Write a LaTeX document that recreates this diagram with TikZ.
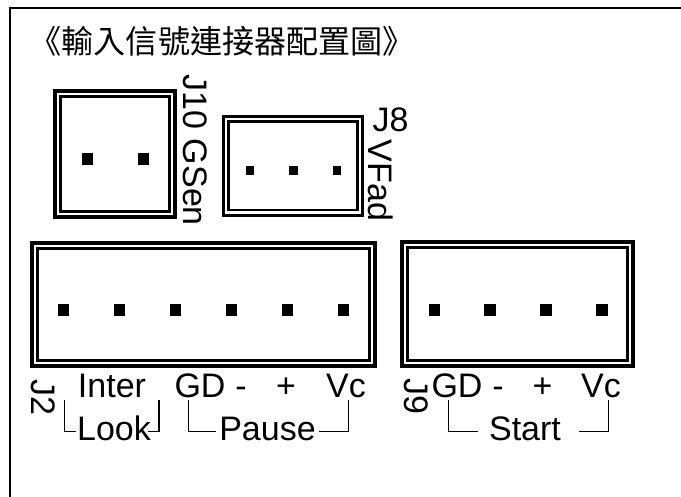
\documentclass[tikz,border=0pt]{standalone}
\usepackage{fontspec}
\setmainfont{Liberation Sans}
\newfontfamily\cjk{Noto Sans CJK TC}
\tikzset{
  x=1pt,y=-1pt,
  frameline/.style={line width=2pt,black},
  bracket/.style={line width=1.3pt,black},
  pin/.style={fill=black,inner sep=0pt,minimum size=#1},
  lab/.style={inner sep=0pt,font=\fontsize{34}{34}\selectfont,anchor=base,text height=24pt,text depth=0pt},
  rot/.style={lab,rotate=-90,anchor=base west},
}
\newcommand{\conn}[7]{% name x0 y0 x1 y1 outer inner
  \path[draw,line width=#6pt] (#2,#3) rectangle (#4,#5);
  \path[draw,line width=#7pt] ({#2+5.3},{#3+5.3}) rectangle ({#4-5.3},{#5-5.3});
  \coordinate (#1) at (#2,#3);
}
\begin{document}
\begin{tikzpicture}
\useasboundingbox (0,0) rectangle (681,497);
\coordinate (tl) at (10,8);
\coordinate (tr) at (681,8);
\coordinate (bl) at (10,497);
\draw[frameline] (bl) -- (tl) -- (tr);
\node[inner sep=0pt,anchor=base west,font=\cjk\fontsize{32.1}{32.1}\selectfont] (title) at (29.5,54) {《輸入信號連接器配置圖》};
% J10
\conn{jten}{55.3}{91}{174.7}{217}{4}{3}
\node[pin=11.5pt] (p1) at (87.5,159) {};
\node[pin=11.5pt] (p2) at (143.5,159) {};
\node[rot] (jtenl) at (183,74.5) {J10 GSen};
% J8
\conn{jeight}{223.2}{116.5}{362.5}{215.2}{3}{2.6}
\node[pin=8.5pt] (p3) at (249.8,170.7) {};
\node[pin=8.5pt] (p4) at (293.3,170.7) {};
\node[pin=8.5pt] (p5) at (337,170.7) {};
\node[lab] (jeightl) at (390.5,131.7) {J8};
\node[rot] (vfad) at (368,139.5) {VFad};
% J2
\conn{jtwo}{32}{243}{375}{366}{4}{3}
\foreach \n/\x in {a/63.7,b/119.7,c/175.5,d/231.6,e/287.5,f/343.7}{\node[pin=11.5pt] (q\n) at (\x,310) {};}
\node[rot] (jtwol) at (31,379.5) {J2};
\node[lab] (inter) at (112,397.5) {Inter};
\node[lab] (gd) at (200,397.5) {GD};
\node[lab] (minus) at (241,397.5) {-};
\node[lab] (plus) at (286,397.5) {+};
\node[lab] (vc) at (346,397.5) {Vc};
\node[lab] (look) at (114,440) {Look};
\node[lab] (pause) at (267.5,440) {Pause};
\coordinate (b1a) at (64.3,400);
\coordinate (b1b) at (159,400);
\coordinate (b2a) at (188.5,400);
\coordinate (b2b) at (348.5,400);
\draw[bracket] (b1a) |- ([yshift=-3.5pt,xshift=-1pt]look.west);
\draw[bracket] (b1b) |- ([yshift=-3.5pt,xshift=-3pt]look.east);
\draw[bracket] (b2a) |- ([yshift=-3.5pt,xshift=-3pt]pause.west);
\draw[bracket] (b2b) |- ([yshift=-3.5pt,xshift=3pt]pause.east);
% J9
\conn{jnine}{402}{242}{633}{366}{4}{3}
\foreach \n/\x in {a/434.3,b/490,c/546,d/602}{\node[pin=11.5pt] (r\n) at (\x,310) {};}
\node[rot] (jninel) at (404,378.5) {J9};
\node[lab] (gdb) at (457,397.5) {GD};
\node[lab] (minusb) at (498,397.5) {-};
\node[lab] (plusb) at (542.5,397.5) {+};
\node[lab] (vcb) at (601,397.5) {Vc};
\node[lab] (start) at (525,440) {Start};
\coordinate (b3a) at (448.5,400);
\coordinate (b3b) at (608.7,400);
\draw[bracket] (b3a) |- ([yshift=-3.5pt,xshift=-11pt]start.west);
\draw[bracket] (b3b) |- ([yshift=-3.5pt,xshift=18pt]start.east);
\end{tikzpicture}
\end{document}
